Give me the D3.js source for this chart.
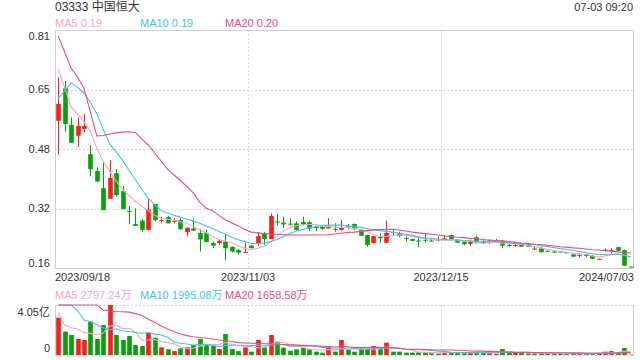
<!DOCTYPE html>
<html><head><meta charset="utf-8">
<script src="https://cdn.jsdelivr.net/npm/d3@7"></script>
<style>
body{margin:0;background:#fff}
svg{display:block}
text{font-family:"Liberation Sans",Arial,"Noto Sans CJK SC",sans-serif}
</style>
</head><body><svg id="c" width="640" height="360"></svg>
<script>
// ---------- data ----------
const title = "03333 中国恒大";
const stamp = "07-03 09:20";
const open  = [0.562,0.651,0.551,0.521,0.540,0.471,0.425,0.378,0.349,0.419,0.370,0.316,0.280,0.289,0.264,0.335,0.290,0.299,0.288,0.291,0.258,0.268,0.256,0.256,0.228,0.228,0.232,0.218,0.209,0.203,0.221,0.228,0.255,0.239,0.287,0.284,0.281,0.282,0.286,0.285,0.272,0.273,0.268,0.267,0.264,0.274,0.280,0.264,0.250,0.228,0.246,0.229,0.258,0.255,0.242,0.239,0.235,0.237,0.235,0.237,0.236,0.250,0.237,0.232,0.226,0.244,0.232,0.231,0.234,0.234,0.223,0.222,0.225,0.225,0.213,0.214,0.207,0.205,0.205,0.203,0.197,0.195,0.197,0.193,0.184,0.209,0.208,0.217,0.209,0.164];
const high  = [0.681,0.671,0.571,0.571,0.581,0.496,0.435,0.450,0.455,0.430,0.384,0.329,0.323,0.294,0.350,0.335,0.300,0.302,0.296,0.296,0.270,0.295,0.266,0.264,0.231,0.237,0.252,0.219,0.212,0.228,0.223,0.259,0.259,0.309,0.309,0.300,0.296,0.288,0.300,0.289,0.276,0.277,0.296,0.282,0.291,0.280,0.282,0.264,0.251,0.248,0.255,0.289,0.264,0.259,0.247,0.240,0.244,0.255,0.241,0.246,0.250,0.251,0.237,0.232,0.238,0.248,0.236,0.239,0.239,0.237,0.228,0.228,0.225,0.229,0.218,0.218,0.208,0.206,0.206,0.205,0.200,0.200,0.198,0.196,0.186,0.213,0.214,0.218,0.210,0.164];
const low   = [0.469,0.532,0.501,0.491,0.531,0.411,0.395,0.318,0.349,0.355,0.321,0.281,0.274,0.259,0.263,0.288,0.284,0.282,0.282,0.265,0.246,0.261,0.205,0.230,0.214,0.223,0.182,0.203,0.197,0.203,0.214,0.221,0.223,0.239,0.276,0.270,0.276,0.261,0.276,0.261,0.261,0.264,0.268,0.259,0.262,0.266,0.264,0.248,0.218,0.227,0.229,0.228,0.250,0.244,0.232,0.233,0.217,0.229,0.232,0.232,0.236,0.239,0.229,0.222,0.220,0.227,0.226,0.225,0.228,0.214,0.218,0.218,0.218,0.218,0.209,0.202,0.204,0.201,0.202,0.200,0.189,0.189,0.189,0.184,0.184,0.205,0.200,0.206,0.166,0.162];
const close = [0.608,0.553,0.502,0.548,0.548,0.430,0.396,0.318,0.406,0.359,0.321,0.315,0.275,0.264,0.320,0.291,0.291,0.282,0.289,0.266,0.270,0.262,0.238,0.231,0.221,0.234,0.214,0.205,0.202,0.204,0.214,0.247,0.239,0.302,0.286,0.279,0.279,0.264,0.279,0.268,0.271,0.267,0.273,0.266,0.270,0.273,0.266,0.248,0.223,0.247,0.241,0.256,0.257,0.247,0.241,0.234,0.234,0.236,0.234,0.236,0.241,0.239,0.229,0.225,0.232,0.228,0.228,0.232,0.235,0.221,0.222,0.223,0.218,0.218,0.212,0.203,0.205,0.202,0.203,0.201,0.191,0.196,0.193,0.185,0.185,0.210,0.209,0.207,0.166,0.163];
const ma5   = [0.703,0.653,0.600,0.581,0.559,0.534,0.487,0.450,0.424,0.398,0.375,0.358,0.341,0.329,0.316,0.304,0.295,0.293,0.291,0.286,0.282,0.273,0.264,0.256,0.247,0.238,0.234,0.228,0.221,0.214,0.210,0.214,0.219,0.231,0.247,0.260,0.271,0.275,0.278,0.279,0.279,0.275,0.273,0.272,0.271,0.270,0.268,0.266,0.260,0.251,0.246,0.246,0.249,0.250,0.249,0.246,0.243,0.241,0.238,0.236,0.236,0.238,0.236,0.234,0.233,0.230,0.228,0.229,0.231,0.228,0.227,0.227,0.224,0.221,0.219,0.215,0.211,0.208,0.205,0.203,0.200,0.198,0.197,0.193,0.190,0.193,0.196,0.199,0.195,0.191];
const ma10  = [0.623,0.644,0.665,0.654,0.638,0.612,0.581,0.538,0.499,0.477,0.454,0.427,0.401,0.375,0.350,0.333,0.317,0.310,0.304,0.299,0.294,0.288,0.282,0.275,0.268,0.260,0.252,0.243,0.237,0.232,0.227,0.227,0.228,0.232,0.238,0.246,0.254,0.261,0.265,0.269,0.273,0.276,0.277,0.277,0.277,0.275,0.273,0.271,0.268,0.264,0.262,0.260,0.258,0.255,0.252,0.249,0.245,0.242,0.241,0.239,0.238,0.236,0.237,0.235,0.234,0.233,0.233,0.232,0.232,0.231,0.229,0.227,0.226,0.226,0.224,0.221,0.219,0.216,0.213,0.211,0.208,0.205,0.202,0.199,0.196,0.197,0.197,0.198,0.194,0.190];
const ma20  = [0.794,0.750,0.706,0.681,0.652,0.586,0.521,0.522,0.526,0.529,0.531,0.532,0.530,0.512,0.496,0.474,0.452,0.430,0.414,0.399,0.382,0.365,0.340,0.323,0.316,0.303,0.292,0.283,0.275,0.265,0.258,0.256,0.254,0.253,0.252,0.251,0.250,0.250,0.250,0.250,0.250,0.250,0.251,0.253,0.255,0.257,0.258,0.260,0.262,0.264,0.265,0.265,0.266,0.264,0.261,0.258,0.256,0.254,0.252,0.250,0.247,0.246,0.244,0.243,0.241,0.240,0.238,0.236,0.235,0.234,0.232,0.230,0.228,0.227,0.225,0.224,0.222,0.220,0.218,0.217,0.215,0.214,0.212,0.210,0.209,0.207,0.206,0.204,0.202,0.201];
// volume in 亿
const volume = [3.02,1.89,1.62,1.30,1.22,2.70,1.30,2.43,4.05,1.62,1.22,1.54,0.81,0.73,1.81,1.40,0.62,0.46,0.32,0.54,0.62,0.81,1.30,0.86,0.73,0.49,1.70,0.49,0.32,0.62,0.27,1.22,0.62,1.62,1.08,0.59,0.35,0.46,0.59,0.46,0.27,0.19,0.67,0.27,1.22,0.41,0.27,0.46,0.49,0.73,0.49,1.00,0.27,0.27,0.19,0.19,0.22,0.19,0.14,0.12,0.27,0.19,0.19,0.15,0.19,0.24,0.19,0.15,0.10,0.49,0.19,0.22,0.16,0.12,0.12,0.14,0.12,0.10,0.10,0.10,0.12,0.12,0.10,0.12,0.14,0.27,0.32,0.19,0.57,0.03];
const vma5  = [3.46,2.43,2.23,2.10,1.81,1.75,1.63,1.79,2.34,2.42,2.12,2.17,1.85,1.18,1.22,1.26,1.07,1.00,0.92,0.67,0.51,0.55,0.72,0.83,0.86,0.84,1.02,0.85,0.75,0.72,0.68,0.58,0.61,0.87,0.96,1.03,0.85,0.82,0.61,0.49,0.43,0.39,0.44,0.37,0.52,0.55,0.57,0.53,0.57,0.47,0.49,0.63,0.60,0.55,0.44,0.38,0.23,0.21,0.19,0.17,0.19,0.18,0.18,0.18,0.20,0.19,0.19,0.18,0.17,0.23,0.22,0.23,0.23,0.24,0.16,0.15,0.13,0.12,0.12,0.11,0.11,0.11,0.11,0.11,0.12,0.15,0.19,0.21,0.30,0.28];
const vma10 = [4.60,4.40,4.20,3.60,2.84,2.70,2.45,2.20,2.05,2.12,1.94,1.90,1.82,1.76,1.82,1.69,1.62,1.43,1.05,0.95,0.89,0.81,0.86,0.87,0.77,0.68,0.78,0.79,0.79,0.79,0.76,0.80,0.73,0.81,0.84,0.85,0.72,0.72,0.74,0.73,0.73,0.62,0.63,0.49,0.51,0.49,0.48,0.48,0.47,0.50,0.52,0.60,0.56,0.56,0.46,0.44,0.43,0.40,0.37,0.31,0.29,0.21,0.20,0.19,0.19,0.19,0.19,0.18,0.18,0.22,0.21,0.21,0.21,0.21,0.20,0.19,0.18,0.18,0.18,0.14,0.13,0.12,0.11,0.11,0.12,0.13,0.15,0.16,0.21,0.20];
const vma20 = [4.90,4.80,4.70,4.60,4.50,4.30,4.15,3.65,3.56,3.52,3.50,3.47,3.35,3.20,2.90,2.65,2.35,2.10,1.90,1.70,1.57,1.48,1.42,1.36,1.30,1.22,1.18,1.10,1.00,0.97,0.95,0.93,0.91,0.90,0.87,0.85,0.82,0.80,0.78,0.76,0.74,0.71,0.68,0.65,0.68,0.67,0.60,0.60,0.61,0.61,0.62,0.61,0.59,0.53,0.48,0.46,0.46,0.44,0.42,0.40,0.40,0.40,0.38,0.37,0.32,0.31,0.31,0.29,0.27,0.26,0.25,0.21,0.20,0.195,0.19,0.19,0.18,0.18,0.18,0.18,0.17,0.17,0.16,0.16,0.16,0.16,0.165,0.17,0.19,0.17];
const priceTicks = [0.81,0.6475,0.485,0.3225,0.16];
const priceTickLabels = ["0.81","0.65","0.48","0.32","0.16"];
const volTicks = [4.05,0];
const volTickLabels = ["4.05亿","0"];
const dateTickIdx = [0,30,60,89];
const dateTickLabels = ["2023/09/18","2023/11/03","2023/12/15","2024/07/03"];
const maLegend = [["MA5","0.19"],["MA10","0.19"],["MA20","0.20"]];
const volLegend = [["MA5","2797.24万"],["MA10","1995.08万"],["MA20","1658.58万"]];

// ---------- layout ----------
const L=55, R=634, pTop=30, pBot=268, vTop=305, vBot=355;
const UP="#f4211c", DOWN="#0aa00a";
const MA_COL=["#f7a3c4","#3cc6e6","#ef4a7e"];
const GRID="#d9d9d9", BORDER="#cfcfcf", TXT="#333";

const svg=d3.select("#c");
const n=close.length;
const x=d3.scaleBand().domain(d3.range(n)).range([L,R]).padding(0);
const cx=i=>x(i)+x.bandwidth()/2;
const bw=x.bandwidth()*0.72;
const y=d3.scaleLinear().domain([0.16,0.81]).range([pBot,pTop]);
const yv=d3.scaleLinear().domain([0,4.05]).range([vBot,vTop]).clamp(true);

svg.append("defs").append("clipPath").attr("id","pc")
  .append("rect").attr("x",L).attr("y",pTop).attr("width",R-L).attr("height",pBot-pTop);

// ---------- header ----------
svg.append("text").attr("x",L).attr("y",11).attr("font-size",12).attr("fill",TXT).text(title);
svg.append("text").attr("x",R-1).attr("y",11).attr("font-size",11).attr("fill",TXT)
  .attr("text-anchor","end").text(stamp);
const legX=[L,140,225];
maLegend.forEach((d,k)=>svg.append("text").attr("x",legX[k]).attr("y",27)
  .attr("font-size",11).attr("fill",MA_COL[k]).text(d[0]+" "+d[1]));
volLegend.forEach((d,k)=>svg.append("text").attr("x",legX[k]).attr("y",299)
  .attr("font-size",11).attr("fill",MA_COL[k]).text(d[0]+" "+d[1]));

// ---------- grids ----------
const g=svg.append("g");
priceTicks.slice(1,-1).forEach(v=>g.append("line")
  .attr("x1",L).attr("x2",R).attr("y1",Math.round(y(v))+0.5).attr("y2",Math.round(y(v))+0.5)
  .attr("stroke",GRID).attr("stroke-dasharray","2,2"));
dateTickIdx.slice(1,-1).forEach(i=>{
  const xx=Math.round(x(i))+0.5;
  g.append("line").attr("x1",xx).attr("x2",xx).attr("y1",pTop).attr("y2",pBot)
    .attr("stroke",GRID).attr("stroke-dasharray","2,2");
  g.append("line").attr("x1",xx).attr("x2",xx).attr("y1",vTop).attr("y2",vBot)
    .attr("stroke",GRID).attr("stroke-dasharray","2,2");
});
// borders
g.append("rect").attr("x",L+0.5).attr("y",pTop+0.5).attr("width",R-L-1).attr("height",pBot-pTop)
  .attr("fill","none").attr("stroke",BORDER);
g.append("line").attr("x1",L+0.5).attr("x2",L+0.5).attr("y1",vTop).attr("y2",vBot).attr("stroke",BORDER);
g.append("line").attr("x1",R-0.5).attr("x2",R-0.5).attr("y1",vTop).attr("y2",vBot).attr("stroke",BORDER);
[vTop+0.5,vBot+0.5].forEach(yy=>g.append("line").attr("x1",L).attr("x2",R).attr("y1",yy).attr("y2",yy)
  .attr("stroke",BORDER).attr("stroke-dasharray","2,2"));

// ---------- axis labels ----------
priceTicks.forEach((v,k)=>{
  const yy=Math.min(Math.max(y(v),pTop+6),pBot-5);
  svg.append("text").attr("x",50).attr("y",yy).attr("dy","0.35em").attr("text-anchor","end")
    .attr("font-size",11).attr("fill",TXT).text(priceTickLabels[k]);
});
volTicks.forEach((v,k)=>{
  const yy=Math.min(Math.max(yv(v),vTop+7),vBot-7);
  svg.append("text").attr("x",50).attr("y",yy).attr("dy","0.35em").attr("text-anchor","end")
    .attr("font-size",11).attr("fill",TXT).text(volTickLabels[k]);
});
dateTickIdx.forEach((i,k)=>{
  let xx=x(i), anchor="middle";
  if(k===0){xx=L;anchor="start";}
  if(k===dateTickIdx.length-1){xx=R;anchor="end";}
  svg.append("text").attr("x",xx).attr("y",281).attr("text-anchor",anchor)
    .attr("font-size",11).attr("fill",TXT).text(dateTickLabels[k]);
});

// ---------- candles ----------
const idx=d3.range(n);
const col=i=>close[i]>=open[i]?UP:DOWN;
const cg=svg.append("g").attr("clip-path","url(#pc)");
cg.selectAll("line.w").data(idx).join("line").attr("class","w")
  .attr("x1",i=>Math.round(cx(i))+0.5).attr("x2",i=>Math.round(cx(i))+0.5)
  .attr("y1",i=>y(high[i])).attr("y2",i=>y(low[i]))
  .attr("stroke",col).attr("stroke-width",1);
cg.selectAll("rect.b").data(idx).join("rect").attr("class","b")
  .attr("x",i=>Math.round(cx(i))+0.5-bw/2).attr("width",bw)
  .attr("y",i=>y(Math.max(open[i],close[i])))
  .attr("height",i=>Math.max(1,Math.abs(y(open[i])-y(close[i]))))
  .attr("fill",col);

// MA lines (price)
const line=d3.line().x((d,i)=>cx(i)).y(d=>y(d));
[ma5,ma10,ma20].forEach((arr,k)=>cg.append("path").attr("d",line(arr))
  .attr("fill","none").attr("stroke",MA_COL[k]).attr("stroke-width",1.1));

// ---------- volume ----------
const vg=svg.append("g");
vg.selectAll("rect").data(idx).join("rect")
  .attr("x",i=>Math.round(cx(i))+0.5-bw/2).attr("width",bw)
  .attr("y",i=>yv(volume[i])).attr("height",i=>Math.max(0.5,vBot-yv(volume[i])))
  .attr("fill",col);
const vline=d3.line().x((d,i)=>cx(i)).y(d=>yv(d));
[vma5,vma10,vma20].forEach((arr,k)=>vg.append("path").attr("d",vline(arr))
  .attr("fill","none").attr("stroke",MA_COL[k]).attr("stroke-width",1.1));
</script>
</body></html>
